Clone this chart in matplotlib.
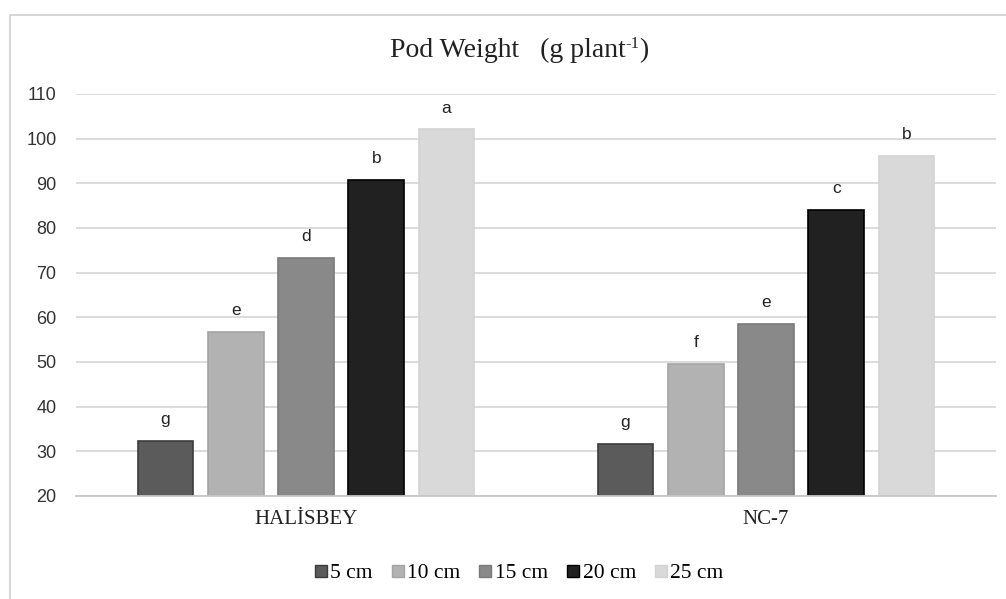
import numpy as np
import matplotlib

matplotlib.use("Agg")

import matplotlib.pyplot as plt
from matplotlib.lines import Line2D
from matplotlib.patches import Rectangle
from matplotlib.transforms import offset_copy

varieties = ["HALİSBEY", "NC-7"]
spacings = ["5 cm", "10 cm", "15 cm", "20 cm", "25 cm"]
pod_weight = {
    "5 cm": [32.4, 31.7],
    "10 cm": [56.8, 49.6],
    "15 cm": [73.3, 58.5],
    "20 cm": [90.8, 84.0],
    "25 cm": [102.1, 96.2],
}
letters = {
    "5 cm": ["g", "g"],
    "10 cm": ["e", "f"],
    "15 cm": ["d", "e"],
    "20 cm": ["b", "c"],
    "25 cm": ["a", "b"],
}
y_ticks = list(range(20, 111, 10))

fills = ["#5b5b5b", "#b2b2b2", "#898989", "#212121", "#d9d9d9"]
edges = ["#3c3c3c", "#a4a4a4", "#7a7a7a", "#000000", "#d3d3d3"]

SERIF = "Liberation Serif"
SANS = "Liberation Sans"

fig = plt.figure(figsize=(10.06, 5.99), dpi=100)
ax = fig.add_axes([76 / 1006, 1 - 496 / 599, 920 / 1006, (496 - 94) / 599])

x = np.arange(len(varieties))
width = 0.121
pitch = 0.1528

for i, sp in enumerate(spacings):
    xs = x + (i - 2) * pitch
    ax.bar(xs, np.array(pod_weight[sp]) - 20, bottom=20, width=width,
           color=fills[i], edgecolor=edges[i], linewidth=1.2, zorder=3)
    for xi, val, lab in zip(xs, pod_weight[sp], letters[sp]):
        ax.annotate(lab, (xi, val), xytext=(0, 12), textcoords="offset points",
                    ha="center", va="baseline", fontsize=12.5, family=SANS,
                    color="#222222")

ax.set_xlim(-0.5, 1.5)
ax.set_ylim(20, 110)
ax.set_yticks(y_ticks)
ax.set_yticklabels([str(t) for t in y_ticks], family=SANS, fontsize=13,
                   color="#333333")
ax.set_xticks(x)
ax.set_xticklabels(varieties, family=SERIF, fontsize=15, color="#222222")
ax.tick_params(axis="both", length=0)
ax.tick_params(axis="y", pad=14)
ax.tick_params(axis="x", pad=10)

ax.yaxis.grid(True, color="#d9d9d9", linewidth=1.3, zorder=0)
ax.set_axisbelow(True)
for side in ["top", "right", "left"]:
    ax.spines[side].set_visible(False)
ax.spines["bottom"].set_color("#c8c8c8")
ax.spines["bottom"].set_linewidth(1.3)
ax.spines["bottom"].set_zorder(4)

# title in three pieces so the superscript keeps a plain hyphen
renderer = fig.canvas.get_renderer()
title_parts = [("Pod Weight   (g plant", 20, 0), ("-1", 12, 9), (")", 20, 0)]
widths = []
for txt, size, _ in title_parts:
    t = fig.text(0, 0, txt, family=SERIF, fontsize=size)
    widths.append(t.get_window_extent(renderer).width)
    t.remove()
x_px = 519 - sum(widths) / 2
for (txt, size, rise), w in zip(title_parts, widths):
    fig.text(x_px / 1006, 1 - (57 - rise) / 599, txt, ha="left", va="baseline",
             family=SERIF, fontsize=size, color="#222222")
    x_px += w

handles = [Line2D([], [], marker="s", linestyle="none", markersize=8,
                  markerfacecolor=fills[i], markeredgecolor=edges[i])
           for i in range(len(spacings))]
fig.legend(handles, spacings, loc="center", bbox_to_anchor=(519 / 1006, 1 - 573 / 599),
           ncol=5, frameon=False, prop={"family": SERIF, "size": 15.5},
           handlelength=0.6, handletextpad=0.15, columnspacing=0.85,
           borderpad=0)

fig.patches.append(Rectangle((10 / 1006, -0.1), 1.2, (599 - 15) / 599 + 0.1,
                             transform=fig.transFigure, fill=False,
                             edgecolor="#d0d0d0", linewidth=1.2))

fig.savefig("out.png", dpi=100)
